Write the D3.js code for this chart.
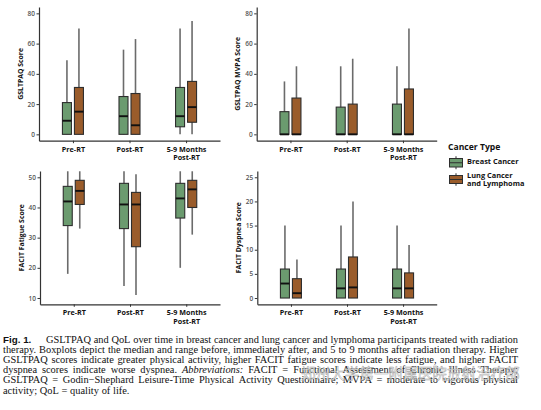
<!DOCTYPE html>
<html><head><meta charset="utf-8">
<script src="https://cdn.jsdelivr.net/npm/d3@7"></script>
<style>body{margin:0;background:#fff}</style>
</head><body>
<svg id="c" width="541" height="410"></svg>
<script>
// ---------- data ----------
const timepoints = ["Pre-RT", "Post-RT", "5-9 Months|Post-RT"];
const groups = ["Breast Cancer", "Lung Cancer and Lymphoma"];
// each entry: [min, q1, median, q3, max]
const gsltpaqBreast = [[0,0,9,21,49],[0,0,12,25,56],[0,5,12,31,70]];
const gsltpaqLung   = [[0,0,15,31,70],[0,0,6,27,63],[0,8,18,35,75]];
const mvpaBreast    = [[0,0,0,15,35],[0,0,0,18,45],[0,0,0,20,45]];
const mvpaLung      = [[0,0,0,24,45],[0,0,0,20,50],[0,0,0,30,70]];
const fatigueBreast = [[18,34,42,47,52],[14,33,41,48,52],[20,36.5,43,48,52]];
const fatigueLung   = [[33,41,45.5,49,52],[11,27,41,45,51],[31,40,46,49,52]];
const dyspneaBreast = [[0,0,3,6,15],[0,0,2,6,15],[0,0,2,6,15]];
const dyspneaLung   = [[0,0,1,4,8],[0,0,2.2,8.5,20],[0,0,2,5.2,11]];
const gsltpaqTicks = [0,20,40,60,80];
const fatigueTicks = [10,20,30,40,50];
const dyspneaTicks = [0,5,10,15,20,25];
const captionLines = [
  "Fig. 1. GSLTPAQ and QoL over time in breast cancer and lung cancer and lymphoma participants treated with radiation",
  "therapy. Boxplots depict the median and range before, immediately after, and 5 to 9 months after radiation therapy. Higher",
  "GSLTPAQ scores indicate greater physical activity, higher FACIT fatigue scores indicate less fatigue, and higher FACIT",
  "dyspnea scores indicate worse dyspnea. Abbreviations: FACIT = Functional Assessment of Chronic Illness Therapy;",
  "GSLTPAQ = Godin\u2212Shephard Leisure-Time Physical Activity Questionnaire; MVPA = moderate to vigorous physical",
  "activity; QoL = quality of life."
];
const watermark = "郑州大学第一附属医院放射治疗部";

// ---------- styles ----------
const colors = {"Breast Cancer": "#6b9b6f", "Lung Cancer and Lymphoma": "#9a5c2b"};
const FONT = "'Open Sans', 'DejaVu Sans', sans-serif";

const panels = [
  {x0:39, x1:220, top:7, bottom:140.7, domain:[-4.2,84.2], ticks:gsltpaqTicks, title:"GSLTPAQ Score", data:[gsltpaqBreast, gsltpaqLung]},
  {x0:256.7, x1:436.7, top:7, bottom:140.7, domain:[-4.2,84.2], ticks:gsltpaqTicks, title:"GSLTPAQ MVPA Score", data:[mvpaBreast, mvpaLung]},
  {x0:40, x1:220, top:171, bottom:304.3, domain:[7.91,52.09], ticks:fatigueTicks, title:"FACIT Fatigue Score", data:[fatigueBreast, fatigueLung]},
  {x0:257.3, x1:436.7, top:171, bottom:304.3, domain:[-1.3,26.3], ticks:dyspneaTicks, title:"FACIT Dyspnea Score", data:[dyspneaBreast, dyspneaLung]}
];

const svg = d3.select("#c");
svg.append("rect").attr("width",541).attr("height",410).attr("fill","#fff");

const dodge = d3.scaleBand().domain(groups).range([-10.5, 10.5]).paddingInner(0.25);

panels.forEach(p => {
  const g = svg.append("g");
  const x = d3.scalePoint().domain(timepoints).range([p.x0, p.x1]).padding(0.6);
  const y = d3.scaleLinear().domain(p.domain).range([p.bottom, p.top]);

  groups.forEach((grp, gi) => {
    timepoints.forEach((tp, ti) => {
      const [mn, q1, md, q3, mx] = p.data[gi][ti];
      const bx = x(tp) + dodge(grp), bw = dodge.bandwidth(), cx = bx + bw/2;
      g.append("line").attr("x1",cx).attr("x2",cx).attr("y1",y(mn)).attr("y2",y(mx))
        .attr("stroke","#6b6b6b").attr("stroke-width",1.6);
      g.append("rect").attr("x",bx).attr("width",bw).attr("y",y(q3)).attr("height",Math.max(0.01,y(q1)-y(q3)))
        .attr("fill",colors[grp]).attr("stroke","#2e2e2e").attr("stroke-width",1.1);
      g.append("line").attr("x1",bx).attr("x2",bx+bw).attr("y1",y(md)).attr("y2",y(md))
        .attr("stroke","#111").attr("stroke-width",1.9);
    });
  });

  const ya = g.append("g").attr("transform",`translate(${p.x0},0)`)
    .call(d3.axisLeft(y).tickValues(p.ticks).tickSize(2.5).tickSizeOuter(0).tickPadding(1.5));
  ya.select(".domain").attr("stroke","#333").attr("stroke-width",1.2);
  ya.selectAll(".tick line").attr("stroke","#333").attr("stroke-width",1);
  ya.selectAll(".tick text").attr("font-family",FONT).attr("font-size",6.5).attr("fill","#555").attr("font-weight",600);

  const xa = g.append("g").attr("transform",`translate(0,${p.bottom})`)
    .call(d3.axisBottom(x).tickSize(2.5).tickSizeOuter(0).tickFormat(""));
  xa.select(".domain").attr("stroke","#333").attr("stroke-width",1.2);
  xa.selectAll(".tick line").attr("stroke","#333").attr("stroke-width",1);
  xa.selectAll(".tick").each(function(d){
    const parts = d.split("|");
    const t = d3.select(this).append("text").attr("fill","#111").attr("font-family",FONT)
      .attr("font-size",7.2).attr("font-weight",700).attr("text-anchor","middle");
    parts.forEach((s,i)=> t.append("tspan").attr("x",0).attr("y",11.2 + i*8.3).text(s));
  });

  g.append("text").attr("transform",`translate(${p.x0-16.5},${(p.top+p.bottom)/2}) rotate(-90)`)
    .attr("text-anchor","middle").attr("font-family",FONT).attr("font-size",6.9).attr("font-weight",700)
    .attr("fill","#111").text(p.title);
});

// ---------- legend ----------
const lg = svg.append("g");
lg.append("text").attr("x",448).attr("y",150).attr("font-family",FONT).attr("font-size",8.6)
  .attr("font-weight",700).attr("fill","#111").text("Cancer Type");
const keys = [
  {grp:"Breast Cancer", y0:158.5, y1:167, labels:["Breast Cancer"], ly:[164]},
  {grp:"Lung Cancer and Lymphoma", y0:175.5, y1:183.5, labels:["Lung Cancer","and Lymphoma"], ly:[177.8,185.6]}
];
keys.forEach(k => {
  const cx = 456;
  lg.append("line").attr("x1",cx).attr("x2",cx).attr("y1",k.y0-2.3).attr("y2",k.y1+2.3).attr("stroke","#6b6b6b").attr("stroke-width",1.4);
  lg.append("rect").attr("x",449.5).attr("width",13).attr("y",k.y0).attr("height",k.y1-k.y0)
    .attr("fill",colors[k.grp]).attr("stroke","#2e2e2e").attr("stroke-width",1);
  lg.append("line").attr("x1",449.5).attr("x2",462.5).attr("y1",(k.y0+k.y1)/2).attr("y2",(k.y0+k.y1)/2).attr("stroke","#2e2e2e").attr("stroke-width",1);
  k.labels.forEach((s,i)=> lg.append("text").attr("x",467).attr("y",k.ly[i]).attr("font-family",FONT)
    .attr("font-size",7.4).attr("font-weight",700).attr("fill","#111").text(s));
});

// ---------- caption (justified) ----------
const cap = svg.append("g");
const LEFT = 3, RIGHT = 518, FS = 10.4;
captionLines.forEach((line, li) => {
  const baseY = 343 + li*10.1;
  const words = line.split(" ");
  const items = [];
  words.forEach((w, wi) => {
    let style = "normal";
    if (li === 0 && wi < 2) style = "fig";
    if (w === "Abbreviations:") style = "italic";
    const t = cap.append("text").attr("y", baseY).attr("fill","#111").text(w);
    if (style === "fig") t.attr("font-family","'Liberation Sans', Arial, sans-serif").attr("font-weight",700).attr("font-size",9.8);
    else t.attr("font-family","'Liberation Serif', 'Times New Roman', serif").attr("font-size",FS).attr("font-style", style==="italic"?"italic":"normal");
    items.push({t, w: t.node().getComputedTextLength(), extra: (li===0 && wi===1) ? 12 : 0});
  });
  const total = d3.sum(items, d => d.w) + d3.sum(items, d => d.extra);
  const last = li === captionLines.length - 1;
  const gap = last ? 2.7 : (RIGHT - LEFT - total) / (items.length - 1);
  let xx = LEFT;
  items.forEach(it => { it.t.attr("x", xx); xx += it.w + gap + it.extra; });
});

// watermark overlay (present in the reference image)
svg.append("text").attr("x",301).attr("y",379).attr("font-family","'Noto Sans CJK SC', sans-serif")
  .attr("font-size",14.6).attr("fill","#ffffff").attr("fill-opacity",0.75)
  .attr("stroke","#8a8a8a").attr("stroke-width",0.5).attr("stroke-opacity",0.8).text(watermark);
</script>
</body></html>
